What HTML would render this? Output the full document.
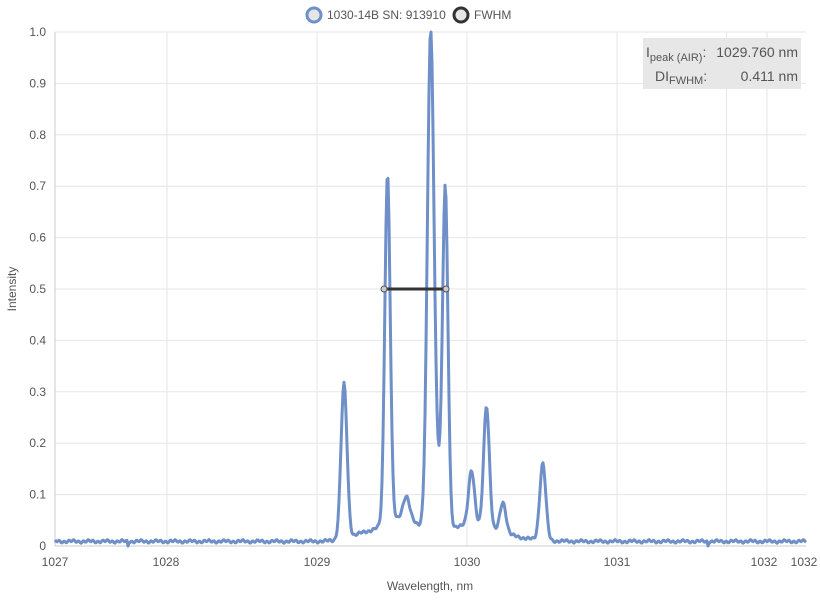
<!DOCTYPE html>
<html><head><meta charset="utf-8"><style>
body{margin:0;background:#fff;font-family:"Liberation Sans",sans-serif}
svg text{font-family:"Liberation Sans",sans-serif}
</style></head><body>
<svg id="s" width="820" height="600" xmlns="http://www.w3.org/2000/svg">
<g stroke="#e6e6e6" stroke-width="1" id="grid"></g>
<g id="lbl" font-size="12" fill="#555"></g>
<text x="430" y="590" font-size="12" fill="#555" text-anchor="middle">Wavelength, nm</text>
<text x="16" y="289" font-size="12" fill="#555" text-anchor="middle" transform="rotate(-90 16 289)">Intensity</text>
<circle cx="314" cy="15" r="7" fill="#e6e6e6" stroke="#6f8fc8" stroke-width="3"/>
<text x="327" y="19" font-size="12" fill="#555">1030-14B SN: 913910</text>
<circle cx="461" cy="15" r="7" fill="#e6e6e6" stroke="#333" stroke-width="3"/>
<text x="474" y="19" font-size="12" fill="#555">FWHM</text>
<path id="p" fill="none" stroke="#6f8fc8" stroke-width="3" stroke-linejoin="round"/>
<line x1="384" y1="289" x2="446" y2="289" stroke="#333" stroke-width="3"/>
<circle cx="384" cy="289" r="3" fill="#ccc" stroke="#555"/>
<circle cx="446" cy="289" r="3" fill="#ccc" stroke="#555"/>
<rect x="643" y="38" width="158" height="51" fill="#e6e6e6" opacity="0.95"/>
<text x="798" y="57" font-size="14" fill="#555" text-anchor="end">1029.760 nm</text>
<text x="646" y="57" font-size="14" fill="#555">I<tspan font-size="11" dy="4">peak (AIR)</tspan><tspan dy="-4">:</tspan></text>
<text x="798" y="81" font-size="14" fill="#555" text-anchor="end">0.411 nm</text>
<text x="655" y="81" font-size="14" fill="#555">DI<tspan font-size="11" dy="3">FWHM</tspan><tspan dy="-3">:</tspan></text>
</svg>
<script>
var X=w=>467+150*(w-1030),Y=v=>546-514*v;
var g=document.getElementById('grid'),l=document.getElementById('lbl'),h='',t='';
[1028,1029,1030,1031,1031.73,1032].forEach((w,i)=>{h+=`<line x1="${X(w)}" y1="32" x2="${X(w)}" y2="546"/>`;});
[[55,'1027'],[166,'1028'],[317,'1029'],[467,'1030'],[617,'1031'],[764,'1032'],[804,'1032']].forEach(a=>{t+=`<text x="${a[0]}" y="566" text-anchor="middle">${a[1]}</text>`;});
for(var i=0;i<=10;i++){var y=Y(i/10);h+=`<line x1="55" y1="${y}" x2="806" y2="${y}"/>`;t+=`<text x="46" y="${y+4}" text-anchor="end">${i==0?'0':(i==10?'1.0':(i/10).toFixed(1))}</text>`;}
h+=`<line x1="55" y1="32" x2="55" y2="546" stroke="#ccc"/><line x1="55" y1="546" x2="806" y2="546" stroke="#ccc"/>`;
g.innerHTML=h;l.innerHTML=t;
var P=[[1029.18,0.30,0.02],[1029.47,0.68,0.018],[1029.595,0.045,0.022],[1029.758,0.97,0.022],[1029.855,0.66,0.018],[1029.81,0.08,0.02],[1030.03,0.11,0.02],[1030.13,0.24,0.019],[1030.24,0.06,0.02],[1030.505,0.15,0.02],
[1029.55,0.04,0.12],[1030.0,0.03,0.22],[1029.3,0.012,0.1]];
var d='';
for(var px=55;px<=806;px++){var w=1030+(px-467)/150,v=0.009+0.002*Math.sin(px*1.3)+0.0015*Math.sin(px*0.37);
P.forEach(p=>{v+=p[1]*Math.exp(-Math.pow((w-p[0])/p[2],2)/2)});
if(px==128||px==708)v=0.0;
d+=(px==55?'M':'L')+px+' '+Y(Math.min(v,1.0)).toFixed(1);}
document.getElementById('p').setAttribute('d',d);
</script>
</body></html>
